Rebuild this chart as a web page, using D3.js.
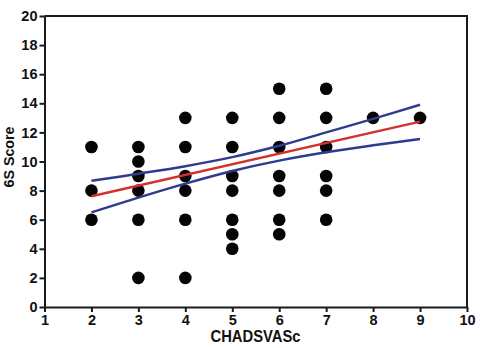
<!DOCTYPE html>
<html>
<head>
<meta charset="utf-8">
<script src="https://cdn.jsdelivr.net/npm/d3@7"></script>
<style>
  body { margin: 0; background: #fff; }
  svg { display: block; font-family: "Liberation Sans", Arial, sans-serif; }
</style>
</head>
<body>
<svg id="chart"></svg>
<script>
// observed points (CHADSVASc, 6S score)
const chadsX = [2,2,2, 3,3,3,3,3,3, 4,4,4,4,4,4, 5,5,5,5,5,5,5, 6,6,6,6,6,6,6, 7,7,7,7,7,7, 8, 9];
const scoreY = [11,8,6, 11,10,9,8,6,2, 13,11,9,8,6,2, 13,11,9,8,6,5,4, 15,13,11,9,8,6,5, 15,13,11,9,8,6, 13, 13];

// regression line and confidence band
const fitX = [2, 9];
const fitY = [7.61, 12.74];
const bandX = [2, 3, 4, 5, 6, 7, 8, 9];
const bandUpper = [8.67, 9.16, 9.68, 10.3, 11.08, 12.0, 12.93, 13.9];
const bandLower = [6.5, 7.52, 8.48, 9.35, 10.06, 10.63, 11.11, 11.55];

const xTicks = [1,2,3,4,5,6,7,8,9,10];
const yTicks = [0,2,4,6,8,10,12,14,16,18,20];

const width = 480, height = 348;
const margin = {top: 16, right: 13, bottom: 41, left: 44.5};
const innerW = width - margin.left - margin.right;
const innerH = height - margin.top - margin.bottom;

const svg = d3.select('#chart').attr('width', width).attr('height', height);
const g = svg.append('g').attr('transform', `translate(${margin.left},${margin.top})`);

const x = d3.scaleLinear().domain([1, 10]).range([0, innerW]);
const y = d3.scaleLinear().domain([0, 20]).range([innerH, 0]);

// frame top/right
g.append('path')
  .attr('d', `M0,0H${innerW}V${innerH}`)
  .attr('fill', 'none').attr('stroke', '#1a1a1a').attr('stroke-width', 2);

const xAxis = g.append('g').attr('transform', `translate(0,${innerH})`)
  .call(d3.axisBottom(x).tickValues(xTicks).tickSize(5).tickSizeOuter(0).tickPadding(3));
const yAxis = g.append('g')
  .call(d3.axisLeft(y).tickValues(yTicks).tickSize(5).tickSizeOuter(0).tickPadding(2));

[xAxis, yAxis].forEach(a => {
  a.attr('font-size', 14.5).attr('font-family', '"Liberation Sans", Arial, sans-serif');
  a.selectAll('path, line').attr('stroke', '#1a1a1a').attr('stroke-width', 2);
  a.selectAll('text').attr('fill', '#111').attr('font-weight', 'bold');
});

// dots
g.selectAll('.dot').data(chadsX.map((d, i) => [d, scoreY[i]]))
  .join('circle')
  .attr('class', 'dot')
  .attr('cx', d => x(d[0])).attr('cy', d => y(d[1])).attr('r', 6.3)
  .attr('fill', '#050505');

const line = d3.line().x(d => x(d[0])).y(d => y(d[1]));
const bandLine = d3.line().x(d => x(d[0])).y(d => y(d[1])).curve(d3.curveCatmullRom);

g.append('path').datum(bandX.map((d, i) => [d, bandUpper[i]]))
  .attr('d', bandLine).attr('fill', 'none').attr('stroke', '#2f3b8f').attr('stroke-width', 2.5);
g.append('path').datum(bandX.map((d, i) => [d, bandLower[i]]))
  .attr('d', bandLine).attr('fill', 'none').attr('stroke', '#2f3b8f').attr('stroke-width', 2.5);
g.append('path').datum(fitX.map((d, i) => [d, fitY[i]]))
  .attr('d', line).attr('fill', 'none').attr('stroke', '#d4302e').attr('stroke-width', 2.5);

// axis titles
svg.append('text')
  .attr('x', 255.5).attr('y', 341.5)
  .attr('text-anchor', 'middle').attr('font-size', 16).attr('font-weight', 'bold')
  .attr('textLength', 90).attr('lengthAdjust', 'spacingAndGlyphs')
  .attr('fill', '#111').text('CHADSVASc');

svg.append('text')
  .attr('transform', `translate(13.5,157) rotate(-90)`)
  .attr('text-anchor', 'middle').attr('font-size', 15).attr('font-weight', 'bold')
  .attr('textLength', 61).attr('lengthAdjust', 'spacingAndGlyphs')
  .attr('fill', '#111').text('6S Score');
</script>
</body>
</html>
